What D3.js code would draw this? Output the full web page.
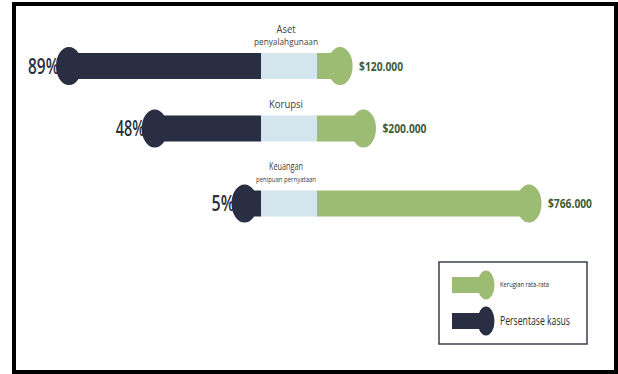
<!DOCTYPE html>
<html>
<head>
<meta charset="utf-8">
<script src="https://cdn.jsdelivr.net/npm/d3@7"></script>
<style>
body { margin: 0; background: #fff; }
text { font-family: 'Open Sans', sans-serif; }
</style>
</head>
<body>
<div class="content"></div>
<script>
var categories = [['Aset', 'penyalahgunaan'], ['Korupsi'], ['Keuangan', 'penipuan pernyataan']];
var caseShare = [89, 48, 5];
var avgLoss = [120000, 200000, 766000];
var shareLabels = ['89%', '48%', '5%'];
var lossLabels = ['$120.000', '$200.000', '$766.000'];
var legendLabels = ['Kerugian rata-rata', 'Persentase kasus'];

var chart = {
    width: 618,
    height: 374,
    mid: 261,
    gap: 56,
    barHeight: 26,
    capRx: 13,
    capRy: 19,
    dark: '#292e42',
    light: '#d4e6ed',
    green: '#9cbb73',
    lossText: '#3f5c39',
    shareText: '#2c3040'
};

window.onload = function() {
    var svg = d3.select('.content').append('svg')
        .attr('width', chart.width)
        .attr('height', chart.height);

    // frame
    svg.append('rect')
        .attr('x', 14).attr('y', 4)
        .attr('width', 602).attr('height', 368)
        .style('fill', 'none')
        .style('stroke', '#000')
        .style('stroke-width', 4);

    var shareX = d3.scaleLinear().domain([0, 100]).range([chart.mid - 6, chart.mid - 215]);
    var lossX = d3.scaleLinear().domain([0, 766000]).range([chart.mid + chart.gap - 12, 529]);

    // stack rows: title lines, then the bar
    var rows = [];
    var y = 29;
    categories.forEach(function(lines, i) {
        var lineYs = lines.map(function(l, j) { return y + j * 12.5; });
        var barY = lineYs[lineYs.length - 1] + 24.5;
        rows.push({ lines: lines, lineYs: lineYs, y: barY, share: caseShare[i], loss: avgLoss[i],
            shareLabel: shareLabels[i], lossLabel: lossLabels[i] });
        y = barY + 38;
    });

    var widths = { 'Aset': 19, 'penyalahgunaan': 64, 'Korupsi': 34, 'Keuangan': 34, 'penipuan pernyataan': 60 };

    var g = svg.selectAll('g.row').data(rows).enter().append('g').attr('class', 'row');

    g.each(function(d, i) {
        var row = d3.select(this);
        d.lines.forEach(function(line, j) {
            var size = 10.5;
            if (j === 1) size = (i === 2) ? 7.5 : 9.5;
            row.append('text')
                .attr('x', chart.mid + 25)
                .attr('y', d.lineYs[j])
                .attr('dy', '0.35em')
                .attr('text-anchor', 'middle')
                .attr('textLength', widths[line])
                .attr('lengthAdjust', 'spacingAndGlyphs')
                .style('font-size', size + 'px')
                .style('fill', '#404040')
                .text(line);
        });
    });

    // share labels sit behind the caps
    g.append('text')
        .attr('x', function(d) { return shareX(d.share) - 10; })
        .attr('y', function(d) { return d.y; })
        .attr('dy', '0.36em')
        .attr('text-anchor', 'end')
        .attr('textLength', function(d, i) { return [31, 29, 23][i]; })
        .attr('lengthAdjust', 'spacingAndGlyphs')
        .style('font-size', '21px')
        .style('font-weight', 600)
        .style('fill', chart.shareText)
        .text(function(d) { return d.shareLabel; });

    g.append('rect')
        .attr('x', function(d) { return shareX(d.share); })
        .attr('y', function(d) { return d.y - chart.barHeight / 2; })
        .attr('width', function(d) { return chart.mid - shareX(d.share); })
        .attr('height', chart.barHeight)
        .style('fill', chart.dark);
    g.append('ellipse')
        .attr('cx', function(d) { return shareX(d.share); })
        .attr('cy', function(d) { return d.y; })
        .attr('rx', chart.capRx).attr('ry', chart.capRy)
        .style('fill', chart.dark);

    g.append('rect')
        .attr('x', chart.mid)
        .attr('y', function(d) { return d.y - chart.barHeight / 2; })
        .attr('width', chart.gap)
        .attr('height', chart.barHeight)
        .style('fill', chart.light);

    g.append('rect')
        .attr('x', chart.mid + chart.gap)
        .attr('y', function(d) { return d.y - chart.barHeight / 2; })
        .attr('width', function(d) { return lossX(d.loss) - chart.mid - chart.gap; })
        .attr('height', chart.barHeight)
        .style('fill', chart.green);
    g.append('ellipse')
        .attr('cx', function(d) { return lossX(d.loss); })
        .attr('cy', function(d) { return d.y; })
        .attr('rx', chart.capRx - 0.5).attr('ry', chart.capRy)
        .style('fill', chart.green);

    g.append('text')
        .attr('x', function(d) { return lossX(d.loss) + 19; })
        .attr('y', function(d) { return d.y; })
        .attr('dy', '0.36em')
        .attr('textLength', 44)
        .attr('lengthAdjust', 'spacingAndGlyphs')
        .style('font-size', '13px')
        .style('font-weight', 700)
        .style('fill', chart.lossText)
        .text(function(d) { return d.lossLabel; });

    // legend
    var legend = svg.append('g');
    legend.append('rect')
        .attr('x', 439).attr('y', 262)
        .attr('width', 148).attr('height', 82)
        .style('fill', '#fff')
        .style('stroke', '#3a3f4e')
        .style('stroke-width', 1.5);

    var items = [
        { label: legendLabels[0], color: chart.green, y: 285, size: 7, len: 49 },
        { label: legendLabels[1], color: chart.dark, y: 321, size: 12, len: 70 }
    ];
    var li = legend.selectAll('g.item').data(items).enter().append('g').attr('class', 'item');
    li.append('rect')
        .attr('x', 452).attr('y', function(d) { return d.y - 8; })
        .attr('width', 34).attr('height', 16)
        .style('fill', function(d) { return d.color; });
    li.append('ellipse')
        .attr('cx', 486).attr('cy', function(d) { return d.y; })
        .attr('rx', 8.5).attr('ry', 14.5)
        .style('fill', function(d) { return d.color; });
    li.append('text')
        .attr('x', 500).attr('y', function(d) { return d.y; })
        .attr('dy', '0.35em')
        .attr('textLength', function(d) { return d.len; })
        .attr('lengthAdjust', 'spacingAndGlyphs')
        .style('font-size', function(d) { return d.size + 'px'; })
        .style('fill', '#2a2a2a')
        .text(function(d) { return d.label; });
};
</script>
</body>
</html>
